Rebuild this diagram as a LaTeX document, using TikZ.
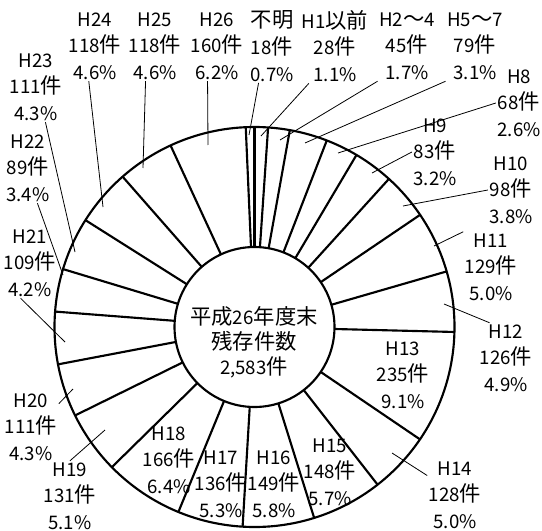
\documentclass[tikz,border=0pt]{standalone}
\usepackage{fontspec}
\setmainfont{Noto Sans CJK JP}
\newcommand{\kanji}[1]{{\fontsize{16}{20}\selectfont #1}}
\begin{document}
\begin{tikzpicture}[x=0.75pt, y=-0.75pt,
    lbl/.style={align=center, inner sep=1pt, font=\fontsize{14}{20}\selectfont},
    rim/.style={line width=1.6pt},
    leader/.style={line width=0.6pt}]
    \useasboundingbox (0,0) rectangle (542,531);
    \coordinate (c) at (254.5,327);
    \foreach \n in {0,28,73,152,220,303,401,530,656,891,1019,1167,1316,1452,1618,1749,1860,1969,2058,2169,2287,2405,2565}
      \draw[rim] ([shift={(-90+\n/2583*360:80)}]c) -- ([shift={(-90+\n/2583*360:200)}]c);
    \draw[rim] (c) circle[radius=200];
    \draw[rim] (c) circle[radius=80];

    \node[lbl] (tot) at (254,342) {\kanji{平成}26\kanji{年度末}\\[-1.25pt]\kanji{残存件数}\\[-1.25pt]2,583\kanji{件}};
    \node[lbl] (h0) at (272,46) {\kanji{不明}\\18\kanji{件}\\0.7\%};
    \node[lbl] (h1) at (335,46) {H1\kanji{以前}\\28\kanji{件}\\1.1\%};
    \node[lbl] (h2) at (407,46) {H2\kanji{～}4\\45\kanji{件}\\1.7\%};
    \node[lbl] (h5) at (475,46) {H5\kanji{～}7\\79\kanji{件}\\3.1\%};
    \node[lbl] (h8) at (519,103) {H8\\68\kanji{件}\\2.6\%};
    \node[lbl] (h9) at (435,152) {H9\\83\kanji{件}\\3.2\%};
    \node[lbl] (h10) at (511,190) {H10\\98\kanji{件}\\3.8\%};
    \node[lbl] (h11) at (491,267) {H11\\129\kanji{件}\\5.0\%};
    \node[lbl] (h12) at (506,358) {H12\\126\kanji{件}\\4.9\%};
    \node[lbl] (h13) at (403,375) {H13\\235\kanji{件}\\9.1\%};
    \node[lbl] (h14) at (455,495) {H14\\128\kanji{件}\\5.0\%};
    \node[lbl] (h15) at (330,472) {H15\\148\kanji{件}\\5.7\%};
    \node[lbl] (h16) at (274,484) {H16\\149\kanji{件}\\5.8\%};
    \node[lbl] (h17) at (221,484) {H17\\136\kanji{件}\\5.3\%};
    \node[lbl] (h18) at (169,460) {H18\\166\kanji{件}\\6.4\%};
    \node[lbl] (h19) at (70,496) {H19\\131\kanji{件}\\5.1\%};
    \node[lbl] (h20) at (31,427) {H20\\111\kanji{件}\\4.3\%};
    \node[lbl] (h21) at (30,263) {H21\\109\kanji{件}\\4.2\%};
    \node[lbl] (h22) at (28,168) {H22\\89\kanji{件}\\3.4\%};
    \node[lbl] (h23) at (36,87) {H23\\111\kanji{件}\\4.3\%};
    \node[lbl] (h24) at (95,46) {H24\\118\kanji{件}\\4.6\%};
    \node[lbl] (h25) at (155,46) {H25\\118\kanji{件}\\4.6\%};
    \node[lbl] (h26) at (217,46) {H26\\160\kanji{件}\\6.2\%};

    \coordinate (e0) at (249,135);
    \coordinate (e1) at (261,136);
    \coordinate (e2) at (280,140);
    \coordinate (e5) at (305,143);
    \coordinate (e8) at (338,153);
    \coordinate (e9) at (372,173);
    \coordinate (e10) at (403,206);
    \coordinate (e11) at (434,246);
    \coordinate (e12) at (444,304);
    \coordinate (e14) at (392,453);
    \coordinate (e19) at (105,430);
    \coordinate (e20) at (73,389);
    \coordinate (e21) at (65,342);
    \coordinate (e22) at (63,275);
    \coordinate (e23) at (75,252);
    \coordinate (e24) at (103,207);
    \coordinate (e25) at (143,168);
    \coordinate (e26) at (208,145);
    \path[draw, leader] (h0.250) -- (e0)
      (h1.235) -- (e1)
      (h2.south west) -- (e2)
      (h5.south west) -- (e5)
      (h8.west) -- (e8)
      (h9.west) -- (e9)
      (h10.west) -- (e10)
      (h11.north west) -- (e11)
      (h12.115) -- (e12)
      (h14.145) -- (e14)
      (h19.north) -- (e19)
      (h20.40) -- (e20)
      (h21.255) -- (e21)
      (h22.285) -- (e22)
      (h23.285) -- (e23)
      (h24.260) -- (e24)
      (h25.255) -- (e25)
      (h26.255) -- (e26);
\end{tikzpicture}
\end{document}
